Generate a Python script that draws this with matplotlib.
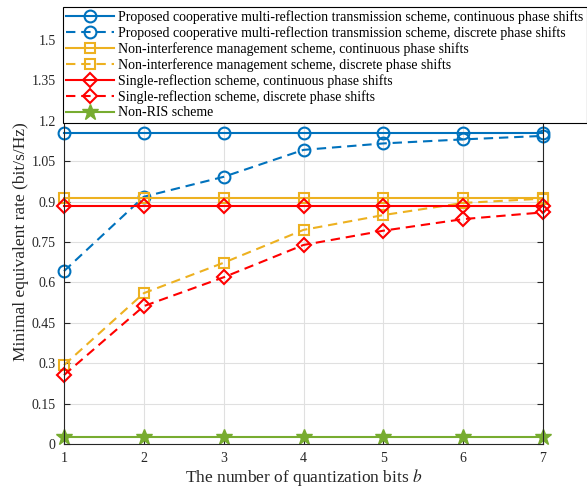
import matplotlib
matplotlib.use("Agg")
import matplotlib.pyplot as plt

plt.rcParams['font.family'] = ['Liberation Serif', 'DejaVu Serif']
plt.rcParams['mathtext.fontset'] = 'stix'

bits = [1, 2, 3, 4, 5, 6, 7]

coop_cont = [1.155] * 7
coop_disc = [0.642, 0.918, 0.992, 1.092, 1.116, 1.131, 1.144]
noint_cont = [0.912] * 7
noint_disc = [0.293, 0.560, 0.673, 0.795, 0.850, 0.895, 0.911]
single_cont = [0.884] * 7
single_disc = [0.256, 0.512, 0.619, 0.739, 0.792, 0.835, 0.860]
non_ris = [0.025] * 7

labels = [
    "Proposed cooperative multi-reflection transmission scheme, continuous phase shifts",
    "Proposed cooperative multi-reflection transmission scheme, discrete phase shifts",
    "Non-interference management scheme, continuous phase shifts",
    "Non-interference management scheme, discrete phase shifts",
    "Single-reflection scheme, continuous phase shifts",
    "Single-reflection scheme, discrete phase shifts",
    "Non-RIS scheme",
]
yticks = [0, 0.15, 0.3, 0.45, 0.6, 0.75, 0.9, 1.05, 1.2, 1.35, 1.5]
ytick_labels = ["0", "0.15", "0.3", "0.45", "0.6", "0.75", "0.9", "1.05", "1.2", "1.35", "1.5"]

blue = (0.0, 0.447, 0.741)
yellow = (0.929, 0.694, 0.125)
red = (1.0, 0.0, 0.0)
green = (0.466, 0.674, 0.188)
dark = (0.15, 0.15, 0.15)

W, H = 587, 487
fig = plt.figure(figsize=(W / 100, H / 100), dpi=100)
ax = fig.add_axes([64 / W, 1 - 444 / H, (543 - 64) / W, (444 - 40) / H])

dash = (0, (4.5, 2.8))
series = [
    (coop_cont, blue, 'o', '-', 8.5),
    (coop_disc, blue, 'o', dash, 8.5),
    (noint_cont, yellow, 's', '-', 7.5),
    (noint_disc, yellow, 's', dash, 7.5),
    (single_cont, red, 'D', '-', 7.5),
    (single_disc, red, 'D', dash, 7.5),
]
for (vals, c, m, ls, ms), lab in zip(series, labels[:6]):
    ax.plot(bits, vals, color=c, marker=m, linestyle=ls, linewidth=1.5,
            markersize=ms, markeredgewidth=1.5, markerfacecolor='none',
            markeredgecolor=c, label=lab, clip_on=False)
ax.plot(bits, non_ris, color=green, marker='*', linestyle='-', markersize=12,
        markeredgewidth=1.0, markerfacecolor=green, markeredgecolor=green,
        linewidth=1.5, label=labels[6], clip_on=False)

ax.set_xlim(1, 7)
ax.set_ylim(0, 1.5)
ax.set_xticks(bits)
ax.set_yticks(yticks)
ax.set_yticklabels(ytick_labels)
ax.grid(True, color=(0.88, 0.88, 0.88), linewidth=0.8)
ax.set_axisbelow(True)
ax.tick_params(direction='in', length=4, width=0.8, labelsize=10,
               colors=dark, right=True, top=True, pad=6)
for s in ax.spines.values():
    s.set_color(dark)
    s.set_linewidth(0.8)
ax.set_xlabel("The number of quantization bits $b$", fontsize=12.5, color=dark, labelpad=1)
ax.set_ylabel("Minimal equivalent rate (bit/s/Hz)", fontsize=12.5, color=dark, labelpad=2)

leg = fig.legend(loc='upper left', bbox_to_anchor=(63 / W, 1 - 7 / H),
                 bbox_transform=fig.transFigure, fontsize=10, frameon=True,
                 fancybox=False, edgecolor='black', framealpha=1,
                 handlelength=3.4, labelspacing=0.16, borderpad=0.25,
                 handletextpad=0.3, borderaxespad=0)
leg.get_frame().set_linewidth(0.8)
leg.set_zorder(10)

fig.savefig("out.png", dpi=100)
